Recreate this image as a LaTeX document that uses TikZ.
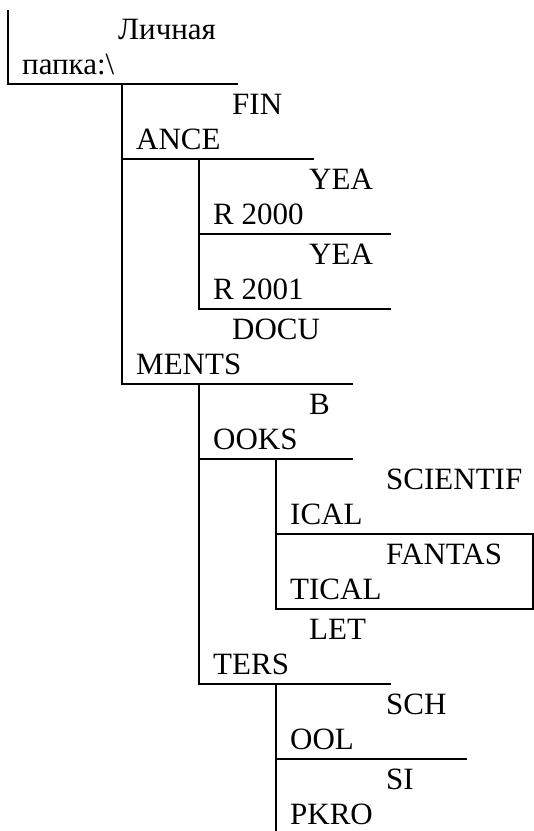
\documentclass[tikz,border=0pt]{standalone}
\usepackage{fontspec}
\setmainfont{Liberation Serif}
\begin{document}
\begin{tikzpicture}[x=1pt,y=-1pt,line cap=rect,
    word/.style={anchor=base west,inner sep=0pt,font=\fontsize{31}{37}\selectfont},
    rule/.style={line width=2.6pt}]
  \useasboundingbox (0,0) rectangle (534,831);
  % one row per folder: left edge / row / end of its under line / the two halves of the name
  \foreach \x/\r/\e/\ta/\tb in {8/0/237/Личная/папка:\textbackslash,
      122/1/313/FIN/ANCE, 199/2/390/YEA/R 2000, 199/3/390/YEA/R 2001,
      122/4/352/DOCU/MENTS, 199/5/352/B/OOKS, 276/6/533/SCIENTIF/ICAL,
      276/7/533/FANTAS/TICAL, 199/8/390/LET/TERS, 276/9/466/SCH/OOL,
      276/10/276/SI/PKRO}{
    \coordinate (r\r) at (\x,{84+75*\r});
    \coordinate (e\r) at (\e,{84+75*\r});
    \node[word] (a\r) at (\x+110,{39+75*\r}) {\ta};
    \node[word] (b\r) at (\x+14,{74+75*\r}) {\tb};
  }
  \foreach \i in {0,...,9}
    \draw[rule] (r\i) -- (e\i);
  % the tree
  \draw[rule] (r0) -- ++(0,-73);
  \draw[rule] (r1 |- r0) -- (r4);
  \draw[rule] (r2 |- r1) -- (r3);
  \draw[rule] (r5 |- r4) -- (r8);
  \draw[rule] (r6 |- r5) -- (r7);
  \draw[rule] (r9 |- r8) -- (r10);
  \draw[rule] (e6) -- (e7);
\end{tikzpicture}
\end{document}
